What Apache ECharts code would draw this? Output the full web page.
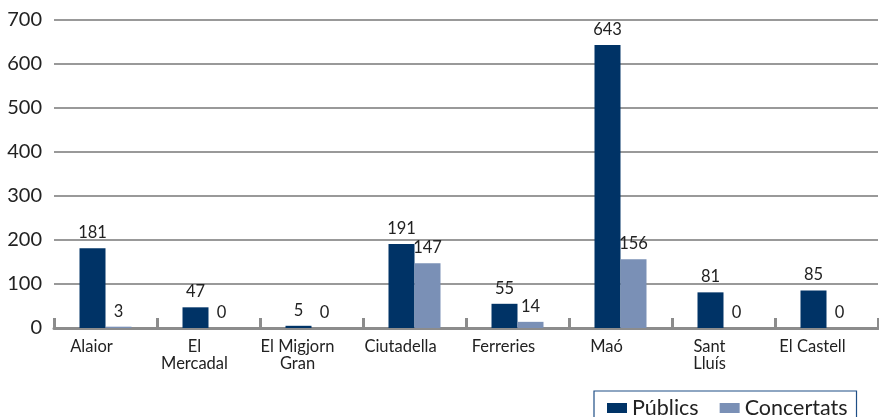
<!DOCTYPE html>
<html><head><meta charset="utf-8">
<script src="https://cdn.jsdelivr.net/npm/echarts@6/dist/echarts.min.js"></script>
<style>html,body{margin:0;padding:0;background:#fff}#c{width:879px;height:417px}</style>
</head><body><div id="c"></div>
<script>
const categories = ['Alaior', 'El\nMercadal', 'El Migjorn\nGran', 'Ciutadella', 'Ferreries', 'Maó', 'Sant\nLluís', 'El Castell'];
const publics = [181, 47, 5, 191, 55, 643, 81, 85];
const concertats = [3, 0, 0, 147, 14, 156, 0, 0];
const seriesNames = ['Públics', 'Concertats'];
const yTicks = [0, 100, 200, 300, 400, 500, 600, 700];

const font = 'Lato, "Open Sans", sans-serif';
const chart = echarts.init(document.getElementById('c'));
const labelStyle = {show: true, position: 'top', distance: 7, color: '#222', fontSize: 16.5, fontFamily: font};
chart.setOption({
  animation: false,
  textStyle: {fontFamily: font},
  grid: {left: 54, right: 1, top: 20, bottom: 89, containLabel: false},
  legend: {
    data: seriesNames, left: 594, top: 391,
    borderColor: '#1f4f86', borderWidth: 1.2, padding: [6, 9, 10, 13],
    itemWidth: 20, itemHeight: 10, itemGap: 21,
    textStyle: {fontSize: 21.5, color: '#222', fontFamily: font},
    icon: 'rect'
  },
  xAxis: {
    type: 'category', data: categories,
    axisLine: {lineStyle: {color: '#8c8c8c', width: 3}},
    axisTick: {show: true, inside: true, length: 10, lineStyle: {color: '#8c8c8c', width: 3}},
    axisLabel: {color: '#222', fontSize: 16.5, fontFamily: font, margin: 10, lineHeight: 17, interval: 0,
      padding: [0, 28, 0, 0]}
  },
  yAxis: {
    type: 'value', min: yTicks[0], max: yTicks[yTicks.length - 1], interval: 100,
    axisLine: {show: false}, axisTick: {show: false},
    axisLabel: {color: '#222', fontSize: 20, fontFamily: font, margin: 12,
      formatter: v => yTicks.includes(v) ? String(v) : ''},
    splitLine: {lineStyle: {color: '#999', width: 2}}
  },
  series: [
    {name: seriesNames[0], type: 'bar', data: publics, barWidth: 26, barGap: '0%',
     itemStyle: {color: '#003366'}, label: labelStyle},
    {name: seriesNames[1], type: 'bar', data: concertats, barWidth: 26,
     itemStyle: {color: '#7a90b6'}, label: labelStyle}
  ]
});
</script></body></html>
